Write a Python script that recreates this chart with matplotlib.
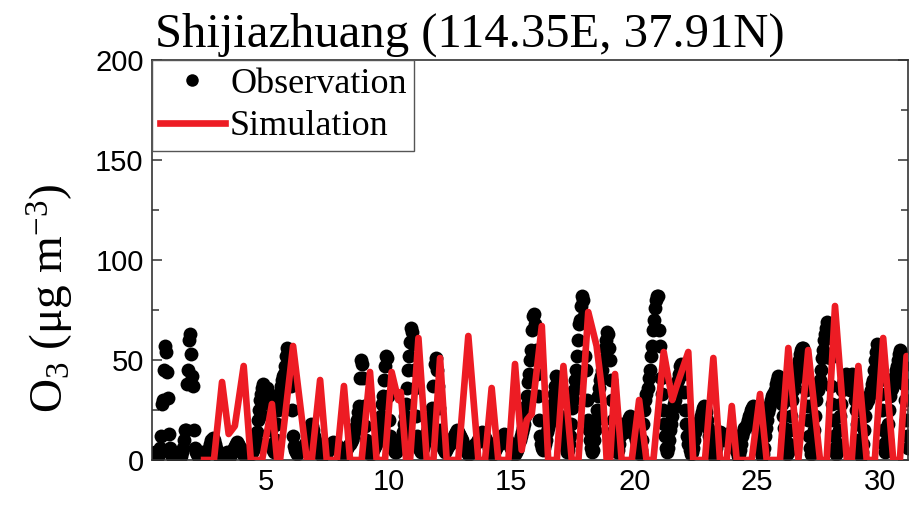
import numpy as np
import matplotlib
matplotlib.use("Agg")
import matplotlib.pyplot as plt
from matplotlib.ticker import MultipleLocator

plt.rcParams['mathtext.fontset'] = 'custom'
plt.rcParams['mathtext.rm'] = 'Liberation Serif'
plt.rcParams['mathtext.default'] = 'regular'

# observed O3, hourly, one row per day starting at day 0.5
obs_rows = [
    [4, 3, 2, 2, 3, 6, 12, 28, 30, 45, 57, 54, 44, 31, 13, 6, 3, 2, 2, 1, 2, 3, 2, 3],
    [3, 2, 4, 6, 10, 15, 15, 38, 45, 60, 63, 53, 42, 37, 15, 6, 4, 3, 2, 2, 3, 4, 3, 2],
    [2, 3, 3, 4, 5, 6, 8, 10, 9, 11, 10, 8, 6, 4, 3, 2, 2, 3, 2, 1, 2, 3, 4, 3],
    [3, 2, 3, 4, 5, 6, 7, 8, 9, 8, 7, 6, 5, 4, 3, 3, 2, 2, 3, 4, 5, 4, 3, 4],
    [5, 6, 8, 10, 14, 20, 25, 30, 33, 36, 38, 35, 30, 36, 33, 28, 22, 15, 8, 5, 4, 6, 10, 18],
    [25, 30, 34, 37, 40, 42, 43, 47, 52, 56, 54, 51, 43, 37, 25, 12, 7, 5, 4, 3, 4, 5, 6, 5],
    [5, 6, 7, 8, 10, 12, 14, 16, 18, 17, 15, 12, 10, 8, 6, 5, 4, 3, 3, 2, 3, 4, 5, 4],
    [4, 5, 6, 7, 8, 8, 9, 8, 7, 8, 7, 6, 5, 4, 3, 3, 2, 3, 4, 5, 6, 7, 8, 9],
    [10, 12, 14, 16, 17, 20, 24, 27, 41, 50, 48, 41, 27, 17, 10, 7, 5, 4, 3, 3, 4, 5, 6, 7],
    [8, 10, 12, 15, 18, 22, 28, 32, 40, 47, 52, 51, 32, 20, 12, 8, 6, 5, 4, 4, 5, 6, 7, 8],
    [9, 11, 14, 18, 22, 28, 36, 45, 52, 59, 66, 64, 58, 45, 36, 22, 12, 8, 6, 5, 4, 5, 6, 8],
    [10, 12, 14, 16, 18, 20, 22, 26, 37, 48, 51, 45, 37, 26, 15, 10, 8, 6, 5, 4, 5, 6, 7, 8],
    [8, 9, 10, 11, 12, 13, 14, 15, 14, 13, 12, 11, 10, 8, 7, 6, 5, 4, 3, 3, 4, 5, 6, 7],
    [7, 8, 9, 10, 11, 12, 13, 14, 13, 12, 11, 10, 9, 8, 6, 5, 4, 3, 3, 4, 5, 6, 7, 8],
    [8, 9, 10, 11, 12, 13, 12, 11, 10, 9, 8, 7, 6, 5, 4, 3, 3, 4, 5, 8, 10, 12, 14, 16],
    [18, 22, 27, 32, 39, 43, 50, 55, 65, 72, 73, 68, 55, 43, 32, 20, 12, 8, 6, 5, 6, 8, 10, 14],
    [16, 18, 20, 22, 25, 28, 33, 37, 42, 41, 37, 33, 22, 18, 14, 10, 8, 6, 4, 5, 8, 12, 18, 26],
    [30, 35, 40, 45, 52, 60, 68, 70, 77, 82, 80, 72, 52, 45, 30, 20, 15, 10, 6, 4, 5, 10, 15, 20],
    [25, 32, 36, 40, 42, 45, 50, 56, 60, 64, 63, 56, 50, 40, 30, 20, 15, 10, 6, 4, 5, 8, 12, 15],
    [18, 16, 15, 14, 15, 17, 19, 21, 22, 21, 20, 18, 15, 12, 10, 8, 6, 4, 3, 5, 10, 18, 25, 30],
    [33, 36, 41, 45, 52, 57, 65, 70, 76, 80, 82, 82, 65, 57, 41, 33, 25, 18, 12, 6, 4, 6, 10, 15],
    [18, 22, 26, 28, 30, 34, 36, 40, 43, 47, 48, 47, 43, 34, 25, 18, 12, 8, 5, 3, 4, 6, 10, 14],
    [16, 17, 18, 19, 20, 22, 24, 26, 27, 26, 24, 20, 16, 12, 10, 8, 5, 3, 2, 4, 6, 9, 12, 14],
    [14, 13, 12, 11, 10, 11, 12, 13, 12, 11, 10, 9, 8, 7, 6, 5, 4, 2, 3, 5, 8, 12, 14, 16],
    [16, 17, 18, 20, 22, 23, 25, 26, 27, 26, 24, 22, 18, 14, 10, 7, 4, 2, 3, 6, 12, 16, 20, 24],
    [26, 28, 30, 32, 33, 35, 38, 40, 42, 41, 38, 33, 28, 22, 16, 10, 5, 3, 4, 8, 15, 22, 30, 35],
    [38, 40, 42, 45, 47, 50, 53, 55, 56, 56, 50, 42, 35, 27, 20, 12, 6, 3, 4, 8, 15, 22, 30, 35],
    [37, 40, 45, 51, 55, 60, 63, 66, 69, 68, 63, 51, 37, 28, 20, 12, 6, 3, 4, 8, 15, 22, 28, 35],
    [38, 40, 42, 43, 42, 40, 38, 35, 40, 43, 40, 35, 30, 25, 18, 10, 5, 2, 4, 8, 15, 22, 28, 30],
    [30, 32, 33, 35, 38, 40, 45, 50, 54, 58, 57, 54, 40, 33, 25, 15, 8, 4, 5, 10, 18, 25, 32, 35],
    [36, 38, 40, 42, 45, 47, 50, 53, 55, 54, 47, 38, 30, 20, 12, 6],
]
obs_start = 0.5

# simulated O3 (turning points of the model curve)
sim_time = [2.5, 2.9, 3.23, 3.5, 3.75, 4.11, 4.4, 4.86, 5.26, 5.47,
            5.59, 6.12, 6.68, 6.88, 7.22, 7.49, 7.9, 8.19, 8.44, 8.91,
            9.25, 9.52, 9.86, 10.13, 10.4, 10.5, 10.72, 10.88, 11.22, 11.56,
            11.83, 12.1, 12.37, 12.84, 13.25, 13.66, 13.93, 14.2, 14.47, 14.88,
            15.15, 15.42, 15.63, 15.83, 16.24, 16.5, 16.85, 17.12, 17.46, 17.73,
            18.13, 18.47, 18.74, 18.88, 19.02, 19.22, 19.49, 19.9, 20.2, 20.5,
            20.78, 21.2, 21.55, 21.7, 22.2, 22.4, 22.88, 23.22, 23.49, 23.76,
            23.97, 24.17, 24.78, 25.12, 25.39, 25.93, 26.27, 26.68, 27.08, 27.56,
            27.83, 28.17, 28.65, 28.85, 29.12, 29.46, 29.79, 30.13, 30.54, 30.81,
            31.08, 31.3]
sim_o3 = [0, 0, 39, 13, 17, 47, 0, 0, 28, 0,
          0, 57, 0, 0, 40, 0, 0, 37, 0, 0,
          44, 0, 0, 44, 30, 34, 0, 0, 61, 0,
          0, 51, 0, 0, 62, 0, 0, 36, 0, 0,
          48, 5, 20, 23, 67, 0, 0, 47, 0, 0,
          74, 57, 30, 0, 0, 43, 0, 0, 30, 0,
          0, 54, 30, 36, 54, 0, 0, 51, 0, 0,
          27, 0, 0, 33, 0, 0, 56, 0, 55, 0,
          0, 77, 0, 0, 47, 0, 0, 61, 0, 0,
          52, 20]

title = "Shijiazhuang (114.35E, 37.91N)"


def main():
    obs = np.concatenate([np.array(r, dtype=float) for r in obs_rows])
    obs_time = obs_start + np.arange(len(obs)) / 24.0

    fig = plt.figure(figsize=(9.11, 5.09), dpi=100)
    ax = fig.add_axes([152 / 911, 49 / 509, 756 / 911, 400 / 509])

    ax.plot(obs_time, obs, 'o', color='black', markersize=10,
            markeredgewidth=0, label='Observation', zorder=2)
    ax.plot(sim_time, sim_o3, '-', color='#ED1C24', lw=4.8,
            solid_joinstyle='round', label='Simulation', zorder=3)

    ax.set_xlim(0.38, 31.14)
    ax.set_ylim(0, 200)
    ax.xaxis.set_major_locator(MultipleLocator(5))
    ax.yaxis.set_major_locator(MultipleLocator(50))
    ax.yaxis.set_minor_locator(MultipleLocator(25))

    ax.tick_params(axis='y', which='both', direction='in', left=True, right=True,
                   labelsize=21, pad=6, width=1.1, color='#333333')
    ax.tick_params(axis='y', which='major', length=7)
    ax.tick_params(axis='y', which='minor', length=5)
    ax.tick_params(axis='x', direction='in', length=0, labelsize=21, pad=6)
    for lab in ax.get_xticklabels() + ax.get_yticklabels():
        lab.set_family('Liberation Sans')
    for sp in ax.spines.values():
        sp.set_linewidth(1.2)
        sp.set_color('#333333')

    leg = ax.legend(loc='upper left', borderaxespad=0, fancybox=False,
                    frameon=True, framealpha=1, edgecolor='#555555',
                    prop={'family': 'Liberation Serif', 'size': 26},
                    handlelength=1.8, handletextpad=0.15, borderpad=0.21,
                    labelspacing=0.25, markerscale=0.9)
    leg.get_frame().set_linewidth(1.0)

    fig.text(155 / 911, (509 - 47) / 509, title, family='Liberation Serif',
             fontsize=35, ha='left', va='baseline')
    fig.text(50 / 911, (509 - 298) / 509, 'O$_{3}$ (μg m$^{-3}$)',
             family='Liberation Serif', fontsize=34, rotation=90,
             ha='center', va='center')

    fig.savefig('out.png', dpi=100)
    plt.close(fig)


if __name__ == "__main__":
    main()
